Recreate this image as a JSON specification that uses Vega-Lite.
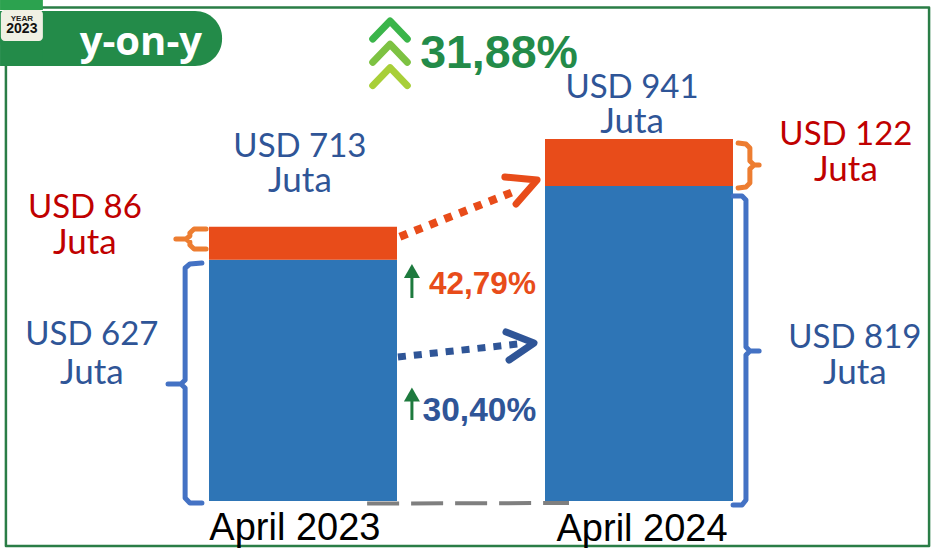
{"$schema":"https://vega.github.io/schema/vega-lite/v6.json","width":935,"height":548,"padding":0,"autosize":{"type":"none"},"background":"white","view":{"stroke":null},
"encoding":{"x":{"field":"x","type":"quantitative","axis":null,"scale":{"domain":[-10.8214,22.5714],"nice":false,"zero":false,"padding":0}},"y":{"field":"y","type":"quantitative","axis":null,"scale":{"domain":[-122.2,1302.3],"nice":false,"zero":false,"padding":0}}},
"resolve":{"scale":{"color":"independent","strokeWidth":"independent"}},
"layer":[
{"data":{"values":[{"kelas":"garis dasar","id":"d","i":0,"x":2.29,"y":-6.5},{"kelas":"garis dasar","id":"d","i":1,"x":9.5,"y":-5.2},{"kelas":"panah oranye","id":"po","i":0,"x":3.46,"y":687},{"kelas":"panah oranye","id":"po","i":1,"x":7.5,"y":803.2},{"kelas":"panah biru","id":"pb","i":0,"x":3.39,"y":374.3},{"kelas":"panah biru","id":"pb","i":1,"x":7.68,"y":408.1},{"kelas":"naik","id":"n1","i":0,"x":3.89,"y":527.7},{"kelas":"naik","id":"n1","i":1,"x":3.89,"y":584.9},{"kelas":"naik","id":"n2","i":0,"x":3.89,"y":210.6},{"kelas":"naik","id":"n2","i":1,"x":3.89,"y":262.5}]},
"mark":{"type":"line","strokeCap":"butt"},
"encoding":{"detail":{"field":"id"},"order":{"field":"i","type":"quantitative"},
"color":{"field":"kelas","type":"nominal","legend":null,"scale":{"domain":["garis dasar","panah oranye","panah biru","naik"],"range":["#7f7f7f","#e84c1a","#2f5597","#1e7a3e"]}},
"strokeWidth":{"field":"kelas","type":"nominal","legend":null,"scale":{"type":"ordinal","domain":["garis dasar","panah oranye","panah biru","naik"],"range":[4,8,7,3]}},
"strokeDash":{"field":"kelas","type":"nominal","legend":null,"scale":{"domain":["garis dasar","panah oranye","panah biru","naik"],"range":[[32,12],[8,8],[8,8],[1,0]]}}}},
{"data":{"values":[{"bulan":"April 2023","x":0,"komponen":"Komponen 1","urut":1,"nilai":627},{"bulan":"April 2023","x":0,"komponen":"Komponen 2","urut":2,"nilai":86},{"bulan":"April 2024","x":12,"komponen":"Komponen 1","urut":1,"nilai":819},{"bulan":"April 2024","x":12,"komponen":"Komponen 2","urut":2,"nilai":122}]},
"mark":{"type":"bar","size":188,"orient":"vertical"},
"encoding":{"y":{"field":"nilai","type":"quantitative","stack":"zero","axis":null},"order":{"field":"urut","type":"quantitative"},
"color":{"field":"komponen","type":"nominal","legend":null,"scale":{"domain":["Komponen 1","Komponen 2"],"range":["#2e75b6","#e84c1a"]}}}},
{"data":{"values":[
{"kelas":"bingkai","id":"f","i":0,"x":-10.61,"y":1282.8},{"kelas":"bingkai","id":"f","i":1,"x":22.36,"y":1282.8},{"kelas":"bingkai","id":"f","i":2,"x":22.36,"y":-117},{"kelas":"bingkai","id":"f","i":3,"x":-10.61,"y":-117},{"kelas":"bingkai","id":"f","i":4,"x":-10.61,"y":1282.8},
{"kelas":"c1","id":"c1","i":0,"x":2.49,"y":1200.9},{"kelas":"c1","id":"c1","i":1,"x":3.11,"y":1247.7},{"kelas":"c1","id":"c1","i":2,"x":3.725,"y":1200.9},
{"kelas":"c2","id":"c2","i":0,"x":2.49,"y":1140.4},{"kelas":"c2","id":"c2","i":1,"x":3.11,"y":1187.2},{"kelas":"c2","id":"c2","i":2,"x":3.725,"y":1140.4},
{"kelas":"c3","id":"c3","i":0,"x":2.49,"y":1079.8},{"kelas":"c3","id":"c3","i":1,"x":3.11,"y":1126.6},{"kelas":"c3","id":"c3","i":2,"x":3.725,"y":1079.8},
{"kelas":"kepala oranye","id":"ko","i":0,"x":7.21,"y":842.2},{"kelas":"kepala oranye","id":"ko","i":1,"x":8.36,"y":834.4},{"kelas":"kepala oranye","id":"ko","i":2,"x":7.61,"y":772},
{"kelas":"kepala biru","id":"kb","i":0,"x":7.25,"y":439.3},{"kelas":"kepala biru","id":"kb","i":1,"x":8.25,"y":410.7},{"kelas":"kepala biru","id":"kb","i":2,"x":7.36,"y":366.5},
{"kelas":"kurung oranye","id":"k1","i":0,"x":-3.46,"y":707},{"kelas":"kurung oranye","id":"k1","i":1,"x":-3.89,"y":707},{"kelas":"kurung oranye","id":"k1","i":2,"x":-4.04,"y":696.6},{"kelas":"kurung oranye","id":"k1","i":3,"x":-4.04,"y":688.8},{"kelas":"kurung oranye","id":"k1","i":4,"x":-4.18,"y":681},{"kelas":"kurung oranye","id":"k1","i":5,"x":-4.54,"y":681},{"kelas":"kurung oranye","id":"k1","i":6,"x":-4.18,"y":681},{"kelas":"kurung oranye","id":"k1","i":7,"x":-4.04,"y":673.2},{"kelas":"kurung oranye","id":"k1","i":8,"x":-4.04,"y":665.4},{"kelas":"kurung oranye","id":"k1","i":9,"x":-3.89,"y":655},{"kelas":"kurung oranye","id":"k1","i":10,"x":-3.46,"y":655},
{"kelas":"kurung biru","id":"k2","i":0,"x":-3.61,"y":618.7},{"kelas":"kurung biru","id":"k2","i":1,"x":-4.04,"y":616},{"kelas":"kurung biru","id":"k2","i":2,"x":-4.21,"y":605.7},{"kelas":"kurung biru","id":"k2","i":3,"x":-4.21,"y":314.5},{"kelas":"kurung biru","id":"k2","i":4,"x":-4.36,"y":304.1},{"kelas":"kurung biru","id":"k2","i":5,"x":-4.82,"y":304.1},{"kelas":"kurung biru","id":"k2","i":6,"x":-4.36,"y":304.1},{"kelas":"kurung biru","id":"k2","i":7,"x":-4.21,"y":293.7},{"kelas":"kurung biru","id":"k2","i":8,"x":-4.21,"y":7.8},{"kelas":"kurung biru","id":"k2","i":9,"x":-4.04,"y":-5.2},{"kelas":"kurung biru","id":"k2","i":10,"x":-3.61,"y":-5.2},
{"kelas":"kurung oranye","id":"k3","i":0,"x":15.54,"y":930.6},{"kelas":"kurung oranye","id":"k3","i":1,"x":15.82,"y":928},{"kelas":"kurung oranye","id":"k3","i":2,"x":15.96,"y":917.6},{"kelas":"kurung oranye","id":"k3","i":3,"x":15.96,"y":883.8},{"kelas":"kurung oranye","id":"k3","i":4,"x":16.11,"y":873.4},{"kelas":"kurung oranye","id":"k3","i":5,"x":16.29,"y":873.4},{"kelas":"kurung oranye","id":"k3","i":6,"x":16.11,"y":873.4},{"kelas":"kurung oranye","id":"k3","i":7,"x":15.96,"y":863},{"kelas":"kurung oranye","id":"k3","i":8,"x":15.96,"y":826.6},{"kelas":"kurung oranye","id":"k3","i":9,"x":15.82,"y":816.2},{"kelas":"kurung oranye","id":"k3","i":10,"x":15.54,"y":813.6},
{"kelas":"kurung biru","id":"k4","i":0,"x":15.36,"y":792.8},{"kelas":"kurung biru","id":"k4","i":1,"x":15.68,"y":792.8},{"kelas":"kurung biru","id":"k4","i":2,"x":15.82,"y":782.4},{"kelas":"kurung biru","id":"k4","i":3,"x":15.82,"y":400.3},{"kelas":"kurung biru","id":"k4","i":4,"x":15.96,"y":389.9},{"kelas":"kurung biru","id":"k4","i":5,"x":16.29,"y":389.9},{"kelas":"kurung biru","id":"k4","i":6,"x":15.96,"y":389.9},{"kelas":"kurung biru","id":"k4","i":7,"x":15.82,"y":379.5},{"kelas":"kurung biru","id":"k4","i":8,"x":15.82,"y":2.6},{"kelas":"kurung biru","id":"k4","i":9,"x":15.68,"y":-10.4},{"kelas":"kurung biru","id":"k4","i":10,"x":15.36,"y":-10.4}
]},
"mark":{"type":"line","strokeCap":"round","strokeJoin":"round"},
"encoding":{"detail":{"field":"id"},"order":{"field":"i","type":"quantitative"},
"color":{"field":"kelas","type":"nominal","legend":null,"scale":{"domain":["bingkai","c1","c2","c3","kepala oranye","kepala biru","kurung oranye","kurung biru"],"range":["#2a7d46","#3bb54a","#7dc242","#a8cf38","#e84c1a","#2f5597","#ed7d31","#4472c4"]}},
"strokeWidth":{"field":"kelas","type":"nominal","legend":null,"scale":{"type":"ordinal","domain":["bingkai","c1","c2","c3","kepala oranye","kepala biru","kurung oranye","kurung biru"],"range":[2.5,7,7,7,7,7,5,5]}}}},
{"data":{"values":[{"x":3.89,"y":597.9},{"x":3.89,"y":276.8}]},"mark":{"type":"point","shape":"triangle-up","filled":true,"size":256,"opacity":1,"color":"#1e7a3e"}},
{"data":{"values":[{"x":-10.82,"x2":-2.89,"y":1273.7,"y2":1130.7}]},"mark":{"type":"rect","color":"#238b49","cornerRadius":27},"encoding":{"x2":{"field":"x2"},"y2":{"field":"y2"}}},
{"data":{"values":[{"x":-10.82,"x2":-9.29,"y":1273.7,"y2":1130.7}]},"mark":{"type":"rect","color":"#238b49"},"encoding":{"x2":{"field":"x2"},"y2":{"field":"y2"}}},
{"data":{"values":[{"x":-10.82,"x2":-9.29,"y":1302.3,"y2":1276.3}]},"mark":{"type":"rect","color":"#2ca24f"},"encoding":{"x2":{"field":"x2"},"y2":{"field":"y2"}}},
{"data":{"values":[{"x":-10.79,"x2":-9.29,"y":1276.3,"y2":1195.7}]},"mark":{"type":"rect","color":"#f0f0e4","cornerRadius":4},"encoding":{"x2":{"field":"x2"},"y2":{"field":"y2"}}},
{"data":{"values":[{"teks":"YEAR","x":-10.04,"y":1247.7}]},"mark":{"type":"text","font":"Liberation Sans","fontWeight":"bold","fontSize":8,"color":"#222222","align":"center","baseline":"alphabetic"},"encoding":{"text":{"field":"teks"}}},
{"data":{"values":[{"teks":"2023","x":-10.04,"y":1216.5}]},"mark":{"type":"text","font":"Liberation Sans","fontWeight":"bold","fontSize":14,"color":"#111111","align":"center","baseline":"alphabetic"},"encoding":{"text":{"field":"teks"}}},
{"data":{"values":[{"teks":"y-on-y","x":-5.79,"y":1159.3}]},"mark":{"type":"text","font":"Open Sans","fontWeight":"bold","fontSize":40,"color":"white","align":"center","baseline":"alphabetic"},"encoding":{"text":{"field":"teks"}}},
{"data":{"values":[{"teks":"31,88%","x":7.0,"y":1125.5}]},"mark":{"type":"text","font":"Liberation Sans","fontWeight":"bold","fontSize":46.5,"color":"#238b49","align":"center","baseline":"alphabetic"},"encoding":{"text":{"field":"teks"}}},
{"data":{"values":[{"teks":"42,79%","x":6.41,"y":538.1}]},"mark":{"type":"text","font":"Liberation Sans","fontWeight":"bold","fontSize":31.5,"color":"#e84c1a","align":"center","baseline":"alphabetic"},"encoding":{"text":{"field":"teks"}}},
{"data":{"values":[{"teks":"30,40%","x":6.30,"y":208}]},"mark":{"type":"text","font":"Liberation Sans","fontWeight":"bold","fontSize":33.5,"color":"#2f5597","align":"center","baseline":"alphabetic"},"encoding":{"text":{"field":"teks"}}},
{"data":{"values":[{"teks":"April 2023","x":-0.29,"y":-101.4},{"teks":"April 2024","x":12.11,"y":-104}]},"mark":{"type":"text","font":"Liberation Sans","fontSize":38,"color":"black","align":"center","baseline":"alphabetic"},"encoding":{"text":{"field":"teks"}}},
{"data":{"values":[
{"teks":"USD 713","seri":"Total","x":-0.11,"y":894.2},
{"teks":"USD 941","seri":"Total","x":11.75,"y":1047.6},
{"teks":"USD 86","seri":"Komponen 2","x":-7.79,"y":735.6},
{"teks":"USD 627","seri":"Komponen 1","x":-7.54,"y":405.5},
{"teks":"USD 122","seri":"Komponen 2","x":19.39,"y":925.4},
{"teks":"USD 819","seri":"Komponen 1","x":19.71,"y":397.7}]},
"mark":{"type":"text","font":"Lato","fontSize":33,"align":"center","baseline":"alphabetic"},
"encoding":{"text":{"field":"teks"},"color":{"field":"seri","type":"nominal","legend":null,"scale":{"domain":["Total","Komponen 1","Komponen 2"],"range":["#2f5597","#2f5597","#c00000"]}}}},
{"data":{"values":[
{"teks":"Juta","seri":"Total","x":-0.11,"y":803.2},
{"teks":"Juta","seri":"Total","x":11.75,"y":956.6},
{"teks":"Juta","seri":"Komponen 2","x":-7.79,"y":642.1},
{"teks":"Juta","seri":"Komponen 1","x":-7.54,"y":304.1},
{"teks":"Juta","seri":"Komponen 2","x":19.39,"y":831.8},
{"teks":"Juta","seri":"Komponen 1","x":19.71,"y":304.1}]},
"mark":{"type":"text","font":"Lato","fontSize":35,"align":"center","baseline":"alphabetic"},
"encoding":{"text":{"field":"teks"},"color":{"field":"seri","type":"nominal","legend":null,"scale":{"domain":["Total","Komponen 1","Komponen 2"],"range":["#2f5597","#2f5597","#c00000"]}}}}
]}
